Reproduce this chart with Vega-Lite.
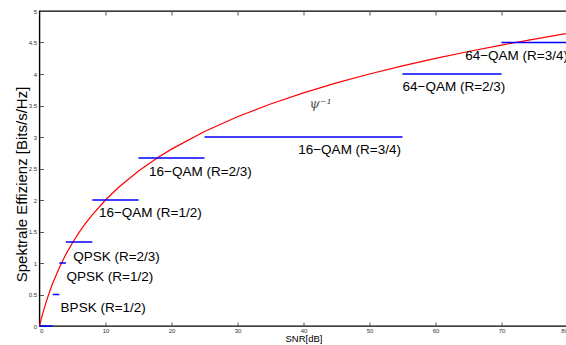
{
  "$schema": "https://vega.github.io/schema/vega-lite/v6.json",
  "width": 528,
  "height": 315,
  "autosize": {"type": "none"},
  "padding": {"left": 39.5, "top": 11, "right": 0, "bottom": 19},
  "background": "white",
  "config": {
    "view": {"stroke": "#000", "strokeWidth": 1.4},
    "font": "Liberation Sans",
    "axis": {"grid": false, "domain": false, "labelFont": "Liberation Sans", "titleFont": "Liberation Sans", "labelColor": "#333", "tickColor": "#555", "titleFontWeight": "normal", "titleColor": "#000"}
  },
  "datasets": {
    "curve": [
      {"x": 0, "y": 0}, {"x": 0.25, "y": 0.1043}, {"x": 0.5, "y": 0.2016}, {"x": 1, "y": 0.3785}, {"x": 1.5, "y": 0.5361},
      {"x": 2, "y": 0.6781}, {"x": 3, "y": 0.926}, {"x": 4, "y": 1.1375}, {"x": 5, "y": 1.3219}, {"x": 6, "y": 1.4854},
      {"x": 7, "y": 1.6323}, {"x": 8, "y": 1.7655}, {"x": 10, "y": 2}, {"x": 12, "y": 2.2016}, {"x": 15, "y": 2.4594},
      {"x": 18, "y": 2.6781}, {"x": 20, "y": 2.8074}, {"x": 25, "y": 3.0875}, {"x": 30, "y": 3.3219}, {"x": 35, "y": 3.5236},
      {"x": 40, "y": 3.7004}, {"x": 45, "y": 3.858}, {"x": 50, "y": 4}, {"x": 55, "y": 4.1293}, {"x": 60, "y": 4.2479},
      {"x": 65, "y": 4.3576}, {"x": 70, "y": 4.4594}, {"x": 75, "y": 4.5546}, {"x": 80, "y": 4.6439}
    ],
    "steps": [
      {"x": 0, "x2": 2, "y": 0},
      {"x": 2, "x2": 3, "y": 0.5},
      {"x": 3, "x2": 4, "y": 1},
      {"x": 4, "x2": 8, "y": 1.3333},
      {"x": 8, "x2": 15, "y": 2},
      {"x": 15, "x2": 25, "y": 2.6667},
      {"x": 25, "x2": 55, "y": 3},
      {"x": 55, "x2": 70, "y": 4},
      {"x": 70, "x2": 80, "y": 4.5}
    ],
    "labels": [
      {"x": 3.2, "y": 0.29, "text": "BPSK (R=1/2)"},
      {"x": 4.1, "y": 0.77, "text": "QPSK (R=1/2)"},
      {"x": 5.1, "y": 1.1, "text": "QPSK (R=2/3)"},
      {"x": 9.0, "y": 1.8, "text": "16−QAM (R=1/2)"},
      {"x": 16.6, "y": 2.44, "text": "16−QAM (R=2/3)"},
      {"x": 39.2, "y": 2.79, "text": "16−QAM (R=3/4)"},
      {"x": 55.0, "y": 3.8, "text": "64−QAM (R=2/3)"},
      {"x": 64.5, "y": 4.28, "text": "64−QAM (R=3/4)"}
    ],
    "psi": [{"x": 40.9, "y": 3.53, "text": "ψ⁻¹"}]
  },
  "resolve": {"axis": {"x": "independent", "y": "independent"}},
  "layer": [
    {
      "data": {"name": "curve"},
      "mark": {"type": "line", "color": "#ff0000", "strokeWidth": 1.2},
      "encoding": {
        "x": {"field": "x", "type": "quantitative", "scale": {"domain": [0, 80], "nice": false},
          "axis": {"orient": "bottom", "values": [0, 10, 20, 30, 40, 50, 60, 70, 80], "ticks": false, "labelFontSize": 6, "labelPadding": 1, "title": "SNR[dB]", "titleFontSize": 9.5, "titlePadding": 0}},
        "y": {"field": "y", "type": "quantitative", "scale": {"domain": [0, 5], "nice": false},
          "axis": {"orient": "left", "values": [0, 0.5, 1, 1.5, 2, 2.5, 3, 3.5, 4, 4.5, 5], "format": "~g", "ticks": false, "labelFontSize": 6, "labelPadding": 3, "title": "Spektrale Effizienz [Bits/s/Hz]", "titleFontSize": 15, "titleBaseline": "alphabetic", "titleX": -13.5, "titleY": 173}}
      }
    },
    {
      "data": {"name": "steps"},
      "mark": {"type": "rule", "color": "#0000ff", "strokeWidth": 1.5},
      "encoding": {
        "x": {"field": "x", "type": "quantitative",
          "axis": {"orient": "top", "values": [10, 20, 30, 40, 50, 60, 70, 80], "tickSize": -4, "labels": false, "title": null}},
        "x2": {"field": "x2"},
        "y": {"field": "y", "type": "quantitative",
          "axis": {"orient": "left", "values": [0.5, 1, 1.5, 2, 2.5, 3, 3.5, 4, 4.5], "tickSize": -4, "labels": false, "title": null}}
      }
    },
    {
      "data": {"name": "labels"},
      "mark": {"type": "text", "align": "left", "baseline": "middle", "fontSize": 13.5, "color": "#000"},
      "encoding": {
        "x": {"field": "x", "type": "quantitative",
          "axis": {"orient": "bottom", "values": [10, 20, 30, 40, 50, 60, 70], "tickSize": -4, "labels": false, "title": null}},
        "y": {"field": "y", "type": "quantitative", "axis": null},
        "text": {"field": "text"}
      }
    },
    {
      "data": {"name": "psi"},
      "mark": {"type": "text", "align": "left", "baseline": "middle", "fontSize": 13, "font": "DejaVu Serif", "fontStyle": "italic", "color": "#555"},
      "encoding": {
        "x": {"field": "x", "type": "quantitative", "axis": null},
        "y": {"field": "y", "type": "quantitative", "axis": null},
        "text": {"field": "text"}
      }
    }
  ]
}
